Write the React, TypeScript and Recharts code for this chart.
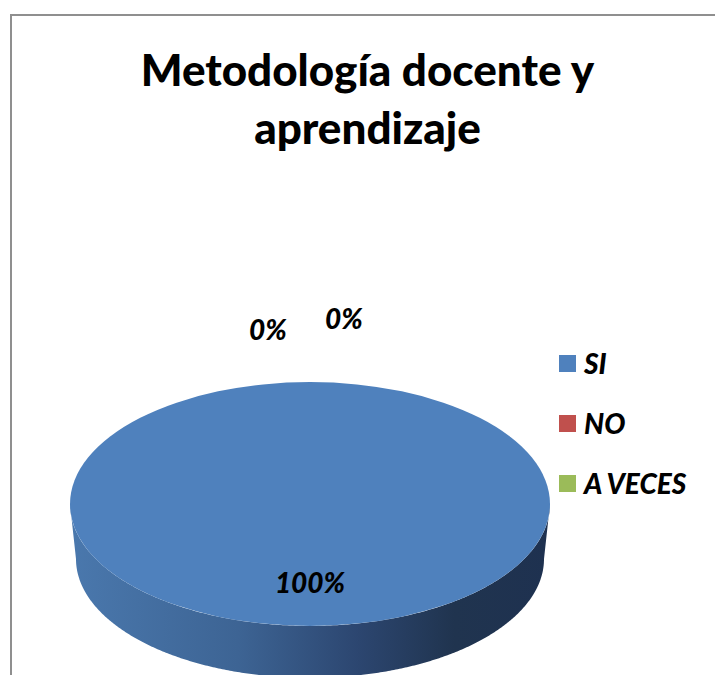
import { PieChart, Pie, Cell, Legend } from 'recharts';

const CATEGORIES = ['SI', 'NO', 'A VECES'];
const PERCENTS = [100, 0, 0];
const COLORS = ['#4f81bd', '#c0504d', '#9bbb59'];
const TITLE_LINES = ['Metodología docente y', 'aprendizaje'];

const data = CATEGORIES.map((name, i) => ({ name, value: PERCENTS[i] }));

const FONT = 'Lato, "Open Sans", sans-serif';
const RAD = Math.PI / 180;
const TILT = 0.508; // vertical squash of the pie disc
const DEPTH = 55; // thickness of the 3d side
const BASE_SHRINK = 0.975; // slight perspective on the lower rim

// draws one slice as a tilted 3d disc piece (top face + visible front wall)
function Slice3D(props: any) {
  const { cx, cy, outerRadius, startAngle, endAngle, fill, index } = props;
  const span = Math.abs(endAngle - startAngle);
  if (!span || span < 0.01) return <g />;

  const rx = outerRadius;
  const ry = outerRadius * TILT;
  const brx = rx * BASE_SHRINK;
  const bry = ry * BASE_SHRINK;
  const pt = (a: number, r1: number, r2: number, dy = 0) =>
    [cx + r1 * Math.cos(a * RAD), cy + dy - r2 * Math.sin(a * RAD)];

  const lo = Math.min(startAngle, endAngle);
  const hi = Math.max(startAngle, endAngle);

  // split the front (lower half) of the arc into runs
  const runs: number[][] = [];
  let cur: number[] = [];
  for (let a = lo; a <= hi + 1e-6; a += 0.5) {
    if (Math.sin(a * RAD) <= 1e-4) cur.push(a);
    else if (cur.length) { runs.push(cur); cur = []; }
  }
  if (cur.length) runs.push(cur);

  const sidePaths = runs.filter((r) => r.length > 1).map((r) => {
    const top = r.map((a) => pt(a, rx, ry));
    const bot = r.map((a) => pt(a, brx, bry, DEPTH)).reverse();
    return 'M' + [...top, ...bot].map((p) => `${p[0].toFixed(2)},${p[1].toFixed(2)}`).join('L') + 'Z';
  });

  const gid = `side-grad-${index}`;
  let topFace;
  if (span >= 359.99) {
    topFace = <ellipse cx={cx} cy={cy} rx={rx} ry={ry} fill={fill} />;
  } else {
    const p1 = pt(startAngle, rx, ry);
    const p2 = pt(endAngle, rx, ry);
    const large = span > 180 ? 1 : 0;
    const sweep = endAngle < startAngle ? 1 : 0;
    topFace = (
      <path
        d={`M${cx},${cy}L${p1[0]},${p1[1]}A${rx},${ry} 0 ${large} ${sweep} ${p2[0]},${p2[1]}Z`}
        fill={fill}
      />
    );
  }

  return (
    <g>
      <defs>
        <linearGradient id={gid} gradientUnits="userSpaceOnUse" x1={cx - rx} y1={0} x2={cx + rx} y2={0}>
          <stop offset="0" stopColor="#4a78ad" />
          <stop offset="0.35" stopColor="#3d6494" />
          <stop offset="0.6" stopColor="#2c4670" />
          <stop offset="0.8" stopColor="#20344f" />
          <stop offset="1" stopColor="#1e3150" />
        </linearGradient>
      </defs>
      {sidePaths.map((d, i) => (
        <path key={i} d={d} fill={`url(#${gid})`} />
      ))}
      {topFace}
    </g>
  );
}

function renderLabel(props: any) {
  const { cx, cy, midAngle, outerRadius, percent, index } = props;
  const rx = outerRadius;
  const ry = outerRadius * TILT;
  const text = `${Math.round(percent * 100)}%`;
  let x: number;
  let y: number;
  if (percent > 0) {
    x = cx + rx * 0.65 * Math.cos(midAngle * RAD);
    y = cy - ry * 0.65 * Math.sin(midAngle * RAD) + 10;
  } else {
    // zero slices stack above the disc, pushed apart so they don't overlap
    x = cx + rx * Math.cos(midAngle * RAD) + (index - 1.5) * 76 - 4;
    y = cy - ry - 42 - (index - 1) * 11;
  }
  return (
    <text
      x={x}
      y={y}
      textAnchor="middle"
      fill="#000"
      style={{ fontFamily: FONT, fontWeight: 900, fontStyle: 'italic', fontSize: 28 }}
    >
      {text}
    </text>
  );
}

function LegendContent(props: any) {
  // keep the series order of the data, not alphabetical
  const items = [...(props.payload || [])].sort(
    (a: any, b: any) => CATEGORIES.indexOf(a.value) - CATEGORIES.indexOf(b.value),
  );
  return (
    <div>
      {items.map((p: any) => (
        <div key={p.value} style={{ display: 'flex', alignItems: 'center', height: 60 }}>
          <span
            style={{
              display: 'inline-block',
              width: 17,
              height: 17,
              background: COLORS[CATEGORIES.indexOf(p.value)] ?? p.color,
              marginRight: 8,
            }}
          />
          <span
            style={{
              fontFamily: FONT,
              fontWeight: 900,
              fontStyle: 'italic',
              fontSize: 28,
              color: '#000',
              whiteSpace: 'nowrap',
            }}
          >
            {p.value}
          </span>
        </div>
      ))}
    </div>
  );
}

export default function App() {
  return (
    <div
      style={{
        position: 'fixed',
        left: 0,
        top: 0,
        width: 715,
        height: 675,
        overflow: 'hidden',
        background: '#fff',
      }}
    >
      <div
        style={{
          position: 'absolute',
          left: 10,
          top: 14,
          width: 760,
          height: 720,
          borderLeft: '2px solid #8f8f8f',
          borderTop: '2px solid #8f8f8f',
        }}
      />
      <PieChart width={715} height={675} margin={{ top: 0, right: 0, bottom: 0, left: 0 }}>
        <text
          x={367.5}
          textAnchor="middle"
          fill="#000"
          style={{ fontFamily: FONT, fontWeight: 900, fontSize: 44 }}
        >
          {TITLE_LINES.map((line, i) => (
            <tspan key={line} x={367.5} y={86 + i * 58}>
              {line}
            </tspan>
          ))}
        </text>
        <Pie
          data={data}
          dataKey="value"
          nameKey="name"
          cx={310}
          cy={504}
          outerRadius={240}
          startAngle={90}
          endAngle={-270}
          stroke="none"
          labelLine={false}
          label={renderLabel}
          shape={Slice3D}
          isAnimationActive={false}
        >
          {data.map((d, i) => (
            <Cell key={d.name} fill={COLORS[i]} />
          ))}
        </Pie>
        <Legend
          layout="vertical"
          align="right"
          verticalAlign="top"
          content={<LegendContent />}
          wrapperStyle={{ left: 559, top: 333, width: 150 }}
        />
      </PieChart>
    </div>
  );
}
